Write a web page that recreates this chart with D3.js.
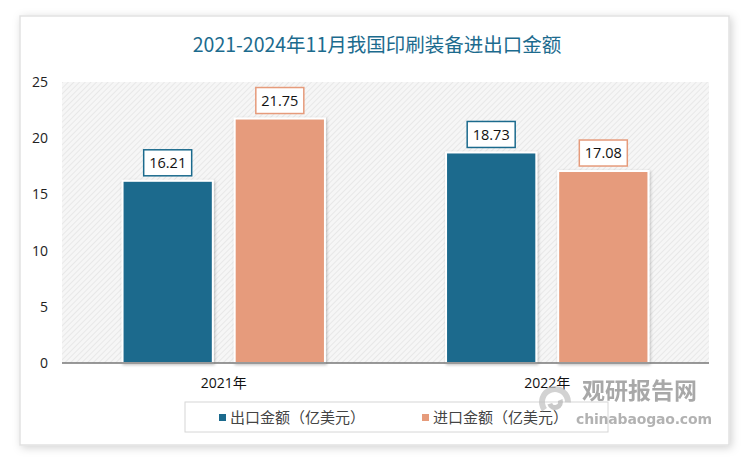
<!DOCTYPE html>
<html>
<head>
<meta charset="utf-8">
<script src="https://cdn.jsdelivr.net/npm/d3@7/dist/d3.min.js"></script>
<style>
  body { margin: 0; background: #fff; }
  svg { display: block; }
</style>
</head>
<body>
<svg id="chart"></svg>
<script>
const title = '2021-2024年11月我国印刷装备进出口金额'
const categories = ['2021年', '2022年']
const seriesNames = ['出口金额（亿美元）', '进口金额（亿美元）']
const exportValues = [16.21, 18.73]
const importValues = [21.75, 17.08]
const yTicks = [0, 5, 10, 15, 20, 25]
const colors = ['#1b6a8d', '#e69b7b']

const W = 750, H = 459
const margin = {top: 82, right: 41, bottom: 96, left: 62}
const width = W - margin.left - margin.right
const height = H - margin.top - margin.bottom

const svg = d3.select('#chart').attr('width', W).attr('height', H)
const defs = svg.append('defs')

// 斜线底纹
const pat = defs.append('pattern')
    .attr('id', 'hatch')
    .attr('patternUnits', 'userSpaceOnUse')
    .attr('width', 4).attr('height', 4)
    .attr('patternTransform', 'rotate(45)')
pat.append('rect').attr('width', 4).attr('height', 4).attr('fill', '#f6f6f6')
pat.append('line').attr('x1', 0).attr('y1', 0).attr('x2', 0).attr('y2', 4)
    .attr('stroke', '#e4e4e4').attr('stroke-width', 1.5)

const shadow = defs.append('filter').attr('id', 'shadow')
    .attr('x', '-20%').attr('y', '-20%').attr('width', '140%').attr('height', '140%')
shadow.append('feDropShadow').attr('dx', 1).attr('dy', 1).attr('stdDeviation', 1.5)
    .attr('flood-color', '#000').attr('flood-opacity', 0.25)

const cardShadow = defs.append('filter').attr('id', 'cardShadow')
    .attr('x', '-5%').attr('y', '-5%').attr('width', '110%').attr('height', '110%')
cardShadow.append('feDropShadow').attr('dx', 2).attr('dy', 2).attr('stdDeviation', 4)
    .attr('flood-color', '#000').attr('flood-opacity', 0.18)

// 外框
svg.append('rect')
    .attr('x', 20).attr('y', 16).attr('width', 709).attr('height', 429)
    .attr('fill', '#fff').attr('stroke', '#e2e2e2').attr('stroke-width', 1.5)
    .attr('filter', 'url(#cardShadow)')

svg.append('text')
    .attr('x', 377).attr('y', 52)
    .attr('text-anchor', 'middle')
    .style('font-family', '"Noto Sans CJK SC", sans-serif')
    .style('font-size', '19.5px')
    .style('fill', '#1c6b8e')
    .text(title)

const g = svg.append('g').attr('transform', 'translate(' + margin.left + ',' + margin.top + ')')

g.append('rect').attr('width', width).attr('height', height).attr('fill', 'url(#hatch)')

const x0 = d3.scaleBand().domain(categories).range([0, width])
const x1 = d3.scaleBand().domain(seriesNames).range([0, x0.bandwidth()])
    .paddingInner(0.195).paddingOuter(0.54)
const y = d3.scaleLinear().domain([0, 25]).range([height, 0])

// y轴
const yAxis = g.append('g')
    .call(d3.axisLeft(y).tickValues(yTicks).tickSize(0).tickPadding(14))
yAxis.select('.domain').remove()
yAxis.selectAll('text')
    .style('font-family', '"Open Sans", "Noto Sans", sans-serif')
    .style('font-size', '14px')
    .style('fill', '#222')

const rows = categories.map((c, i) => ({cat: c, vals: [exportValues[i], importValues[i]]}))

const groups = g.selectAll('.grp').data(rows).enter().append('g')
    .attr('class', 'grp')
    .attr('transform', d => 'translate(' + x0(d.cat) + ',0)')

groups.selectAll('rect.bar')
    .data(d => d.vals.map((v, i) => ({name: seriesNames[i], v: v, i: i})))
    .enter().append('rect')
    .attr('class', 'bar')
    .attr('x', d => x1(d.name))
    .attr('y', d => y(d.v))
    .attr('width', x1.bandwidth())
    .attr('height', d => height - y(d.v))
    .attr('fill', d => colors[d.i])
    .attr('stroke', '#fff').attr('stroke-width', 2)
    .attr('filter', 'url(#shadow)')

// 数据标签
const lbl = groups.selectAll('g.lbl')
    .data(d => d.vals.map((v, i) => ({name: seriesNames[i], v: v, i: i})))
    .enter().append('g')
    .attr('class', 'lbl')
    .attr('transform', d => 'translate(' + (x1(d.name) + x1.bandwidth() / 2) + ',' + (y(d.v) - 18) + ')')
lbl.append('rect')
    .attr('x', -24).attr('y', -13).attr('width', 48).attr('height', 26)
    .attr('fill', '#fff')
    .attr('stroke', d => colors[d.i]).attr('stroke-width', 1.5)
lbl.append('text')
    .attr('text-anchor', 'middle').attr('dy', '0.36em')
    .style('font-family', '"Open Sans", "Noto Sans", sans-serif')
    .style('font-size', '14.5px')
    .style('fill', '#111')
    .text(d => d3.format('.2f')(d.v))

// x轴
g.append('line')
    .attr('x1', 0).attr('x2', width)
    .attr('y1', height).attr('y2', height)
    .attr('stroke', '#777').attr('stroke-width', 1.5)

g.selectAll('.xlabel').data(categories).enter().append('text')
    .attr('class', 'xlabel')
    .attr('x', d => x0(d) + x0.bandwidth() / 2)
    .attr('y', height + 25)
    .attr('text-anchor', 'middle')
    .style('font-family', '"Open Sans", "Noto Sans CJK SC", sans-serif')
    .style('font-size', '14px')
    .style('fill', '#111')
    .text(d => d)

// 图例
const legend = svg.append('g')
legend.append('rect')
    .attr('x', 185).attr('y', 402).attr('width', 423).attr('height', 30)
    .attr('fill', '#fff').attr('stroke', '#d6d6d6')
const legendX = [219, 422]
seriesNames.forEach((n, i) => {
    legend.append('rect')
        .attr('x', legendX[i]).attr('y', 414).attr('width', 7).attr('height', 7)
        .attr('fill', colors[i])
    legend.append('text')
        .attr('x', legendX[i] + 11).attr('y', 423)
        .style('font-family', '"Noto Sans CJK SC", sans-serif')
        .style('font-size', '15px')
        .style('fill', '#444')
        .text(n)
})

// 水印
const wm = svg.append('g').attr('opacity', 0.75)
wm.append('path')
    .attr('d', d3.arc()({innerRadius: 10, outerRadius: 16, startAngle: -2.2, endAngle: 1.6}))
    .attr('transform', 'translate(555,402)')
    .attr('fill', '#c4c4c4')
wm.append('path')
    .attr('d', d3.arc()({innerRadius: 3, outerRadius: 8, startAngle: 1.2, endAngle: 4.4}))
    .attr('transform', 'translate(555,402)')
    .attr('fill', '#b8b8b8')
wm.append('text')
    .attr('x', 582).attr('y', 399)
    .style('font-family', '"Noto Sans CJK SC", sans-serif')
    .style('font-size', '23px').style('font-weight', 'bold')
    .style('fill', '#8c8c8c')
    .text('观研报告网')
wm.append('text')
    .attr('x', 576).attr('y', 424)
    .attr('textLength', 136)
    .style('font-family', '"DejaVu Sans", sans-serif')
    .style('font-size', '14px').style('font-weight', 'bold')
    .style('fill', '#999')
    .text('chinabaogao.com')
</script>
</body>
</html>
